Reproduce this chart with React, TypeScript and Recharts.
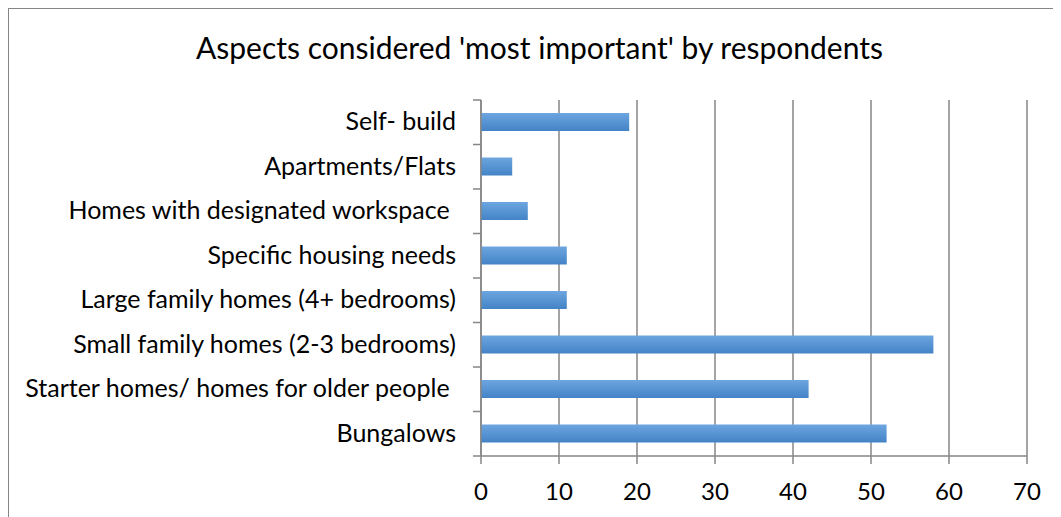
import React from 'react';
import { BarChart, Bar, XAxis, YAxis, CartesianGrid } from 'recharts';

const categories = [
  'Self- build',
  'Apartments/Flats',
  'Homes with designated workspace ',
  'Specific housing needs',
  'Large family homes (4+ bedrooms)',
  'Small family homes (2-3 bedrooms)',
  'Starter homes/ homes for older people ',
  'Bungalows',
];
const values = [19, 4, 6, 11, 11, 58, 42, 52];
const xTicks = [0, 10, 20, 30, 40, 50, 60, 70];

const data = categories.map((name, i) => ({ name, value: values[i] }));

const FONT = 'Lato, "Open Sans", sans-serif';
const GRID = '#868686';
const BAND = 356 / categories.length;

const YTick = (props: any) => {
  const { x, y, payload, index } = props;
  const axisX = x + 25;
  return (
    <g>
      <line x1={axisX - 8} x2={axisX} y1={y + BAND / 2} y2={y + BAND / 2} stroke={GRID} strokeWidth={1.5} />
      {index === 0 && (
        <line x1={axisX - 8} x2={axisX} y1={y - BAND / 2} y2={y - BAND / 2} stroke={GRID} strokeWidth={1.5} />
      )}
      <text x={x} y={y} dy={8} textAnchor="end" fill="#000" fontSize={25} fontFamily={FONT} style={{ whiteSpace: 'pre' }}>
        {payload.value}
      </text>
    </g>
  );
};

export default function App() {
  return (
    <div style={{ position: 'relative', width: 1053, height: 509 }}>
      <svg
        width={400}
        height={20}
        style={{ position: 'absolute', left: -8, top: -8, overflow: 'visible', zIndex: 5 }}
      >
        <text x={0} y={4} fontFamily={FONT} fontSize={24} fill="#000">
          housing by order of priority.
        </text>
      </svg>
      <div style={{ position: 'absolute', left: 0, top: 0, width: 1053, height: 509, overflow: 'hidden' }}>
        <div
          style={{
            position: 'absolute',
            left: 0,
            top: 0,
            width: 1053,
            height: 509,
            borderTop: `1.5px solid ${GRID}`,
            borderLeft: `1.5px solid ${GRID}`,
            boxSizing: 'border-box',
          }}
        />
        <div
          style={{
            position: 'absolute',
            left: 0,
            top: 19,
            width: 1063,
            lineHeight: '40px',
            textAlign: 'center',
            fontFamily: FONT,
            fontSize: 30,
            color: '#000',
          }}
        >
          Aspects considered 'most important' by respondents
        </div>
        <div style={{ position: 'absolute', left: 0, top: 0 }}>
          <BarChart
            width={1053}
            height={509}
            data={data}
            layout="vertical"
            margin={{ top: 92, right: 34, bottom: 31, left: 0 }}
            barCategoryGap={0}
          >
            <defs>
              <linearGradient id="barGrad" x1="0" y1="0" x2="0" y2="1">
                <stop offset="0%" stopColor="#6DA6E0" />
                <stop offset="100%" stopColor="#4383C6" />
              </linearGradient>
            </defs>
            <CartesianGrid vertical horizontal={false} stroke={GRID} strokeWidth={1.5} />
            <XAxis
              type="number"
              domain={[0, 70]}
              ticks={xTicks}
              height={30}
              axisLine={{ stroke: GRID, strokeWidth: 1.5 }}
              tickLine={{ stroke: GRID, strokeWidth: 1.5 }}
              tickSize={8}
              tickMargin={19}
              tick={{ fill: '#000', fontSize: 24, fontFamily: FONT }}
            />
            <YAxis
              type="category"
              dataKey="name"
              width={473}
              axisLine={{ stroke: GRID, strokeWidth: 1.5 }}
              tickLine={false}
              tickSize={0}
              tickMargin={25}
              tick={<YTick />}
              interval={0}
            />
            <Bar dataKey="value" fill="url(#barGrad)" barSize={18} isAnimationActive={false} />
          </BarChart>
        </div>
      </div>
    </div>
  );
}
